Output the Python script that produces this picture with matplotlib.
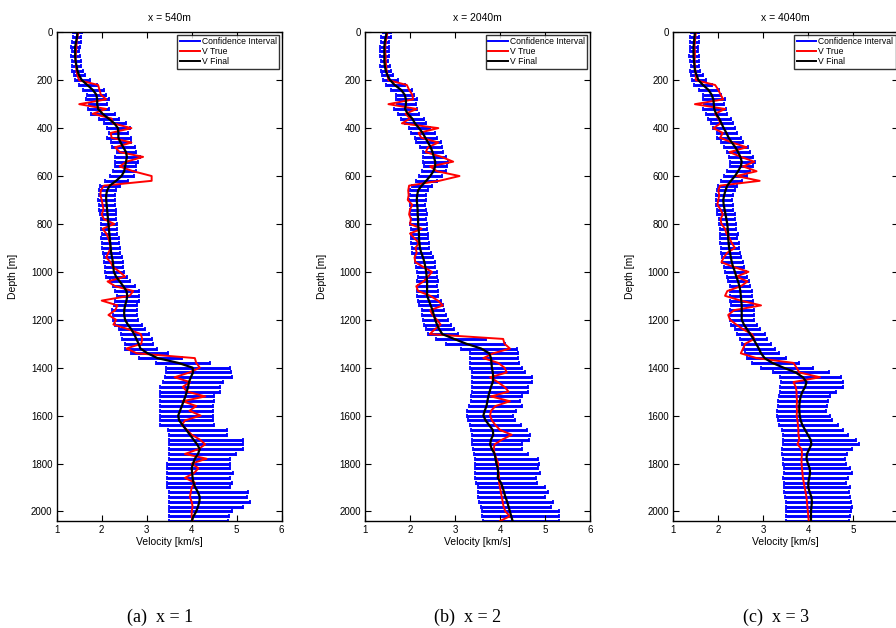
import numpy as np
import matplotlib
matplotlib.use("Agg")
import matplotlib.pyplot as plt
from matplotlib.lines import Line2D

plt.rcParams['font.family'] = ['Liberation Sans', 'DejaVu Sans']

# depth samples [m]
depth = list(range(0, 2041, 20))

titles = ["x = 540m", "x = 2040m", "x = 4040m"]
captions = ["(a)  x = 1", "(b)  x = 2", "(c)  x = 3"]

# ---- panel (a) ----
vf_a = [1.46, 1.45, 1.43, 1.41, 1.41, 1.41, 1.42, 1.44, 1.46, 1.50,
        1.56, 1.68, 1.80, 1.88, 1.90, 1.90, 1.92, 2.02, 2.15, 2.28,
        2.36, 2.37, 2.37, 2.42, 2.48, 2.54, 2.56, 2.54, 2.52, 2.50,
        2.44, 2.32, 2.18, 2.12, 2.10, 2.10, 2.11, 2.12, 2.13, 2.14,
        2.15, 2.16, 2.17, 2.18, 2.19, 2.20, 2.21, 2.23, 2.25, 2.26,
        2.27, 2.32, 2.40, 2.48, 2.55, 2.57, 2.55, 2.52, 2.50, 2.50,
        2.52, 2.58, 2.66, 2.72, 2.77, 2.82, 2.86, 3.02, 3.24, 3.70,
        4.02, 4.03, 3.98, 3.94, 3.92, 3.89, 3.86, 3.82, 3.78, 3.74,
        3.70, 3.72, 3.80, 3.88, 3.96, 4.04, 4.12, 4.18, 4.14, 4.07,
        4.03, 4.00, 4.01, 4.02, 4.04, 4.08, 4.14, 4.18, 4.17, 4.14,
        4.10, 4.04, 4.00]
vt_a = [1.48, 1.46, 1.44, 1.44, 1.43, 1.42, 1.42, 1.43, 1.44, 1.46,
        1.50, 1.92, 1.95, 1.98, 2.10, 1.50, 2.10, 1.80, 2.22, 2.25,
        2.66, 2.20, 2.22, 2.66, 2.30, 2.40, 2.92, 2.55, 2.40, 2.70,
        3.11, 3.11, 2.05, 1.98, 1.97, 2.00, 2.02, 2.04, 2.00, 2.05,
        2.28, 2.02, 2.10, 2.15, 2.18, 2.20, 2.15, 2.10, 2.20, 2.25,
        2.40, 2.52, 2.13, 2.30, 2.70, 2.62, 2.00, 2.35, 2.30, 2.15,
        2.32, 2.26, 2.60, 2.87, 2.90, 2.88, 2.55, 2.78, 4.07, 4.10,
        4.18, 3.95, 3.62, 3.96, 3.80, 3.90, 4.30, 3.80, 4.10, 3.95,
        4.20, 3.85, 3.78, 3.90, 4.00, 4.18, 4.30, 4.15, 3.85, 4.33,
        4.00, 4.15, 4.05, 3.85, 4.07, 4.00, 3.98, 3.96, 4.00, 4.02,
        4.00, 4.00, 4.02]
lo_a = [0.09, 0.08, 0.10, 0.09, 0.08, 0.10, 0.09, 0.10, 0.11, 0.12,
        0.15, 0.18, 0.22, 0.20, 0.24, 0.19, 0.22, 0.25, 0.21, 0.24,
        0.24, 0.20, 0.26, 0.22, 0.25, 0.21, 0.26, 0.24, 0.22, 0.25,
        0.26, 0.24, 0.22, 0.18, 0.17, 0.19, 0.16, 0.18, 0.17, 0.16,
        0.17, 0.18, 0.16, 0.19, 0.18, 0.20, 0.18, 0.19, 0.21, 0.19,
        0.20, 0.22, 0.21, 0.24, 0.25, 0.23, 0.26, 0.25, 0.27, 0.26,
        0.27, 0.29, 0.28, 0.30, 0.32, 0.30, 0.34, 0.38, 0.42, 0.50,
        0.60, 0.60, 0.58, 0.58, 0.62, 0.59, 0.56, 0.52, 0.48, 0.44,
        0.40, 0.42, 0.50, 0.40, 0.46, 0.54, 0.62, 0.68, 0.64, 0.57,
        0.58, 0.55, 0.56, 0.57, 0.59, 0.63, 0.64, 0.68, 0.67, 0.64,
        0.60, 0.54, 0.50]
hi_a = [0.10, 0.09, 0.10, 0.11, 0.09, 0.10, 0.11, 0.10, 0.12, 0.13,
        0.17, 0.22, 0.24, 0.21, 0.26, 0.22, 0.25, 0.27, 0.23, 0.26,
        0.26, 0.22, 0.28, 0.24, 0.27, 0.23, 0.28, 0.26, 0.25, 0.27,
        0.28, 0.26, 0.23, 0.20, 0.19, 0.20, 0.18, 0.19, 0.18, 0.18,
        0.18, 0.19, 0.18, 0.20, 0.19, 0.21, 0.20, 0.21, 0.22, 0.21,
        0.22, 0.24, 0.23, 0.26, 0.27, 0.25, 0.28, 0.27, 0.29, 0.28,
        0.29, 0.31, 0.30, 0.33, 0.35, 0.33, 0.37, 0.45, 0.55, 0.70,
        0.83, 0.85, 0.92, 0.75, 0.71, 0.74, 0.64, 0.68, 0.70, 0.74,
        0.78, 0.76, 0.70, 0.90, 0.82, 1.10, 1.03, 0.97, 0.85, 0.78,
        0.82, 0.85, 0.90, 0.82, 0.86, 0.76, 1.10, 1.05, 1.13, 1.00,
        0.80, 0.78, 0.80]

# ---- panel (b) ----
vf_b = [1.48, 1.46, 1.44, 1.43, 1.43, 1.43, 1.43, 1.44, 1.46, 1.50,
        1.56, 1.66, 1.80, 1.88, 1.91, 1.91, 1.89, 1.95, 2.05, 2.11,
        2.20, 2.28, 2.34, 2.40, 2.46, 2.50, 2.53, 2.56, 2.56, 2.52,
        2.45, 2.36, 2.26, 2.18, 2.16, 2.15, 2.16, 2.17, 2.17, 2.18,
        2.18, 2.19, 2.20, 2.20, 2.21, 2.22, 2.25, 2.29, 2.32, 2.34,
        2.36, 2.37, 2.38, 2.38, 2.38, 2.38, 2.42, 2.46, 2.50, 2.53,
        2.56, 2.60, 2.65, 2.72, 2.98, 3.25, 3.58, 3.76, 3.80, 3.81,
        3.82, 3.84, 3.85, 3.84, 3.80, 3.77, 3.74, 3.72, 3.70, 3.66,
        3.63, 3.68, 3.76, 3.84, 3.85, 3.80, 3.78, 3.82, 3.88, 3.90,
        3.92, 3.95, 3.96, 3.95, 4.02, 4.06, 4.09, 4.12, 4.16, 4.19,
        4.22, 4.25, 4.28]
vt_b = [1.50, 1.48, 1.46, 1.45, 1.45, 1.46, 1.46, 1.47, 1.48, 1.50,
        1.52, 1.93, 1.98, 2.05, 2.07, 1.52, 2.15, 1.90, 2.00, 1.82,
        2.63, 2.19, 2.25, 2.63, 2.40, 2.35, 2.70, 2.96, 2.45, 2.60,
        3.10, 2.65, 1.98, 1.96, 1.97, 1.95, 2.05, 2.00, 1.98, 2.02,
        2.00, 2.26, 2.00, 2.10, 2.20, 2.12, 2.15, 2.10, 2.12, 2.30,
        2.49, 2.40, 2.30, 2.14, 2.18, 2.45, 2.62, 2.73, 2.45, 2.50,
        2.60, 2.68, 2.55, 2.44, 4.07, 4.10, 4.22, 3.85, 3.63, 3.96,
        4.10, 4.15, 3.78, 3.95, 4.10, 4.19, 3.80, 4.22, 3.90, 3.80,
        3.78, 3.82, 3.90, 4.00, 4.26, 4.05, 3.88, 3.86, 3.88, 3.92,
        3.96, 3.95, 3.97, 3.98, 3.98, 4.00, 4.02, 4.04, 4.06, 4.08,
        4.12, 4.22, 4.00]
lo_b = [0.09, 0.10, 0.08, 0.09, 0.10, 0.09, 0.08, 0.10, 0.11, 0.12,
        0.16, 0.20, 0.22, 0.19, 0.23, 0.21, 0.24, 0.22, 0.25, 0.23,
        0.22, 0.25, 0.23, 0.26, 0.24, 0.22, 0.25, 0.27, 0.24, 0.26,
        0.25, 0.23, 0.21, 0.19, 0.17, 0.18, 0.16, 0.17, 0.18, 0.16,
        0.17, 0.16, 0.18, 0.17, 0.19, 0.18, 0.20, 0.19, 0.21, 0.20,
        0.21, 0.20, 0.22, 0.21, 0.23, 0.22, 0.24, 0.25, 0.24, 0.26,
        0.27, 0.28, 0.30, 0.32, 0.40, 0.45, 0.45, 0.43, 0.47, 0.48,
        0.48, 0.47, 0.48, 0.47, 0.43, 0.40, 0.38, 0.37, 0.40, 0.40,
        0.37, 0.40, 0.43, 0.48, 0.48, 0.43, 0.40, 0.42, 0.46, 0.46,
        0.48, 0.51, 0.52, 0.50, 0.55, 0.56, 0.57, 0.60, 0.62, 0.62,
        0.63, 0.64, 0.66]
hi_b = [0.10, 0.11, 0.09, 0.10, 0.11, 0.10, 0.09, 0.11, 0.12, 0.13,
        0.18, 0.22, 0.24, 0.21, 0.25, 0.23, 0.26, 0.24, 0.27, 0.25,
        0.24, 0.27, 0.25, 0.28, 0.26, 0.24, 0.27, 0.29, 0.26, 0.28,
        0.27, 0.25, 0.23, 0.21, 0.19, 0.20, 0.18, 0.19, 0.20, 0.18,
        0.19, 0.18, 0.20, 0.19, 0.21, 0.20, 0.22, 0.21, 0.23, 0.22,
        0.23, 0.22, 0.24, 0.23, 0.25, 0.24, 0.26, 0.27, 0.26, 0.28,
        0.29, 0.30, 0.32, 0.35, 0.70, 0.85, 0.80, 0.64, 0.60, 0.62,
        0.66, 0.72, 0.85, 0.88, 0.82, 0.86, 0.74, 0.72, 0.78, 0.70,
        0.66, 0.65, 0.70, 0.75, 0.82, 0.85, 0.70, 0.66, 0.74, 0.95,
        0.94, 0.90, 0.92, 0.86, 0.80, 0.95, 0.98, 0.88, 1.02, 0.95,
        1.08, 1.05, 1.02]

# ---- panel (c) ----
vf_c = [1.48, 1.47, 1.46, 1.45, 1.45, 1.45, 1.46, 1.47, 1.48, 1.52,
        1.56, 1.66, 1.78, 1.85, 1.89, 1.90, 1.91, 1.95, 2.02, 2.07,
        2.12, 2.18, 2.23, 2.30, 2.38, 2.44, 2.49, 2.52, 2.50, 2.44,
        2.37, 2.28, 2.20, 2.16, 2.13, 2.11, 2.12, 2.14, 2.16, 2.18,
        2.20, 2.21, 2.22, 2.22, 2.23, 2.24, 2.26, 2.28, 2.30, 2.33,
        2.37, 2.40, 2.44, 2.47, 2.49, 2.50, 2.51, 2.52, 2.52, 2.52,
        2.52, 2.57, 2.64, 2.71, 2.78, 2.84, 2.90, 2.95, 3.03, 3.20,
        3.45, 3.72, 3.88, 3.96, 3.93, 3.87, 3.83, 3.81, 3.80, 3.80,
        3.81, 3.83, 3.87, 3.93, 3.99, 4.05, 4.07, 4.02, 3.97, 3.96,
        3.99, 4.03, 4.04, 4.02, 4.00, 4.00, 4.03, 4.07, 4.08, 4.07,
        4.06, 4.06, 4.06]
vt_c = [1.50, 1.49, 1.48, 1.47, 1.48, 1.48, 1.47, 1.48, 1.49, 1.50,
        1.50, 1.93, 2.00, 2.05, 2.11, 1.48, 2.15, 1.93, 2.00, 2.05,
        1.89, 2.10, 2.04, 2.30, 2.63, 2.25, 2.50, 2.80, 2.55, 2.85,
        2.40, 2.92, 2.04, 2.00, 2.02, 2.00, 1.98, 2.05, 2.10, 2.05,
        2.07, 2.15, 2.18, 2.25, 2.30, 2.37, 2.20, 2.12, 2.07, 2.35,
        2.67, 2.40, 2.65, 2.50, 2.20, 2.15, 2.50, 2.95, 2.35, 2.22,
        2.26, 2.40, 2.55, 2.75, 2.80, 2.60, 2.55, 2.50, 2.85, 3.67,
        3.74, 3.80, 4.26, 3.67, 3.72, 3.74, 3.74, 3.75, 3.74, 3.75,
        3.74, 3.76, 3.77, 3.78, 3.78, 3.80, 3.76, 3.85, 3.86, 3.85,
        3.85, 3.86, 3.87, 3.88, 3.90, 3.92, 3.94, 3.96, 3.97, 3.98,
        3.99, 4.00, 4.01]
lo_c = [0.08, 0.09, 0.10, 0.08, 0.09, 0.10, 0.09, 0.08, 0.10, 0.12,
        0.15, 0.19, 0.22, 0.20, 0.23, 0.21, 0.24, 0.22, 0.24, 0.23,
        0.24, 0.22, 0.25, 0.23, 0.26, 0.24, 0.25, 0.27, 0.25, 0.24,
        0.24, 0.22, 0.20, 0.19, 0.18, 0.17, 0.18, 0.16, 0.18, 0.17,
        0.18, 0.17, 0.19, 0.18, 0.20, 0.19, 0.21, 0.20, 0.22, 0.21,
        0.22, 0.21, 0.23, 0.22, 0.24, 0.23, 0.25, 0.24, 0.26, 0.25,
        0.26, 0.28, 0.27, 0.30, 0.29, 0.32, 0.34, 0.36, 0.40, 0.45,
        0.50, 0.50, 0.50, 0.56, 0.55, 0.50, 0.48, 0.48, 0.48, 0.50,
        0.51, 0.50, 0.52, 0.52, 0.55, 0.62, 0.64, 0.60, 0.55, 0.52,
        0.55, 0.58, 0.59, 0.58, 0.55, 0.54, 0.56, 0.58, 0.58, 0.57,
        0.56, 0.55, 0.55]
hi_c = [0.09, 0.10, 0.11, 0.09, 0.10, 0.11, 0.10, 0.09, 0.11, 0.13,
        0.17, 0.21, 0.24, 0.22, 0.25, 0.23, 0.26, 0.24, 0.26, 0.25,
        0.26, 0.24, 0.27, 0.25, 0.28, 0.26, 0.27, 0.29, 0.27, 0.26,
        0.26, 0.24, 0.22, 0.21, 0.20, 0.19, 0.20, 0.18, 0.20, 0.19,
        0.20, 0.19, 0.21, 0.20, 0.22, 0.21, 0.23, 0.22, 0.24, 0.23,
        0.24, 0.23, 0.25, 0.24, 0.26, 0.25, 0.27, 0.26, 0.28, 0.27,
        0.28, 0.30, 0.29, 0.32, 0.31, 0.34, 0.37, 0.40, 0.48, 0.60,
        0.65, 0.75, 0.85, 0.82, 0.85, 0.75, 0.65, 0.62, 0.62, 0.60,
        0.67, 0.70, 0.78, 0.85, 0.90, 1.00, 1.05, 0.95, 0.88, 0.86,
        0.85, 0.90, 0.92, 0.86, 0.84, 0.92, 0.88, 0.85, 0.86, 0.90,
        0.88, 0.86, 0.85]

panels = [(vf_a, vt_a, lo_a, hi_a),
          (vf_b, vt_b, lo_b, hi_b),
          (vf_c, vt_c, lo_c, hi_c)]

W, H = 896, 628
fig = plt.figure(figsize=(W / 100, H / 100), dpi=100)

lefts = [56.7, 365.0, 673.3]
top_px, bot_px, width_px = 32.3, 521.0, 225.0

for i, (vf, vt, lo, hi) in enumerate(panels):
    ax = fig.add_axes([lefts[i] / W, 1 - bot_px / H,
                       width_px / W, (bot_px - top_px) / H])
    ax.errorbar(vf, depth, xerr=[lo, hi], fmt='none', ecolor='#0000ff',
                elinewidth=2.1, capsize=1.7, capthick=1.3, zorder=1)
    ax.plot(vt, depth, color='#ff0000', lw=1.4, zorder=2)
    ax.plot(vf, depth, color='black', lw=1.6, zorder=3)

    ax.set_xlim(1, 6)
    ax.set_ylim(2040, 0)
    ax.set_xticks([1, 2, 3, 4, 5, 6])
    ax.set_yticks(range(0, 2001, 200))
    ax.tick_params(direction='in', top=True, right=True, length=4,
                   width=0.8, labelsize=7, pad=3)
    for s in ax.spines.values():
        s.set_linewidth(1.0)
    ax.set_xlabel("Velocity [km/s]", fontsize=7.5, labelpad=1)
    ax.set_ylabel("Depth [m]", fontsize=7.5, labelpad=9)
    ax.set_title(titles[i], fontsize=7.5, pad=8)

    handles = [Line2D([], [], color='#0000ff', lw=1.4),
               Line2D([], [], color='#ff0000', lw=1.4),
               Line2D([], [], color='black', lw=1.4)]
    leg = ax.legend(handles, ["Confidence Interval", "V True", "V Final"],
                    loc='upper right', fontsize=6.2, frameon=True,
                    fancybox=False, borderaxespad=0.3, handlelength=2.3,
                    handletextpad=0.2, labelspacing=0.1, borderpad=0.3)
    leg.get_frame().set_edgecolor('black')
    leg.get_frame().set_linewidth(1.0)

    fig.text((lefts[i] + 103) / W, 1 - 617 / H, captions[i],
             family='Liberation Serif', fontsize=13, ha='center', va='center')

fig.savefig("out.png", dpi=100)
